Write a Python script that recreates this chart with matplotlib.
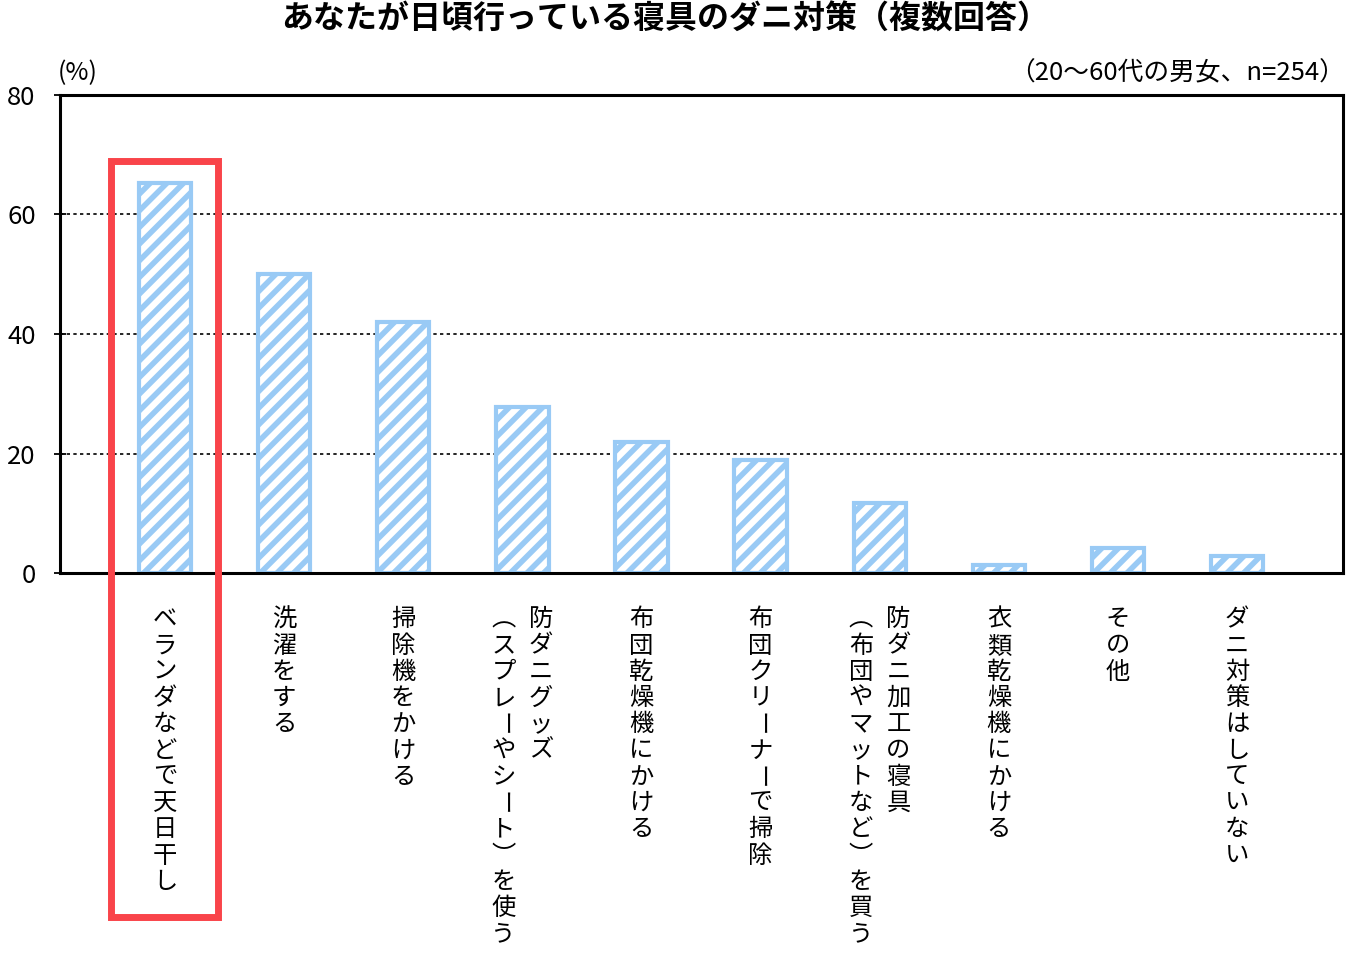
import matplotlib
matplotlib.use('Agg')
from matplotlib import pyplot as plt
from matplotlib.patches import Rectangle

plt.rcParams['font.family'] = ['Noto Sans CJK JP', 'DejaVu Sans']

title = 'あなたが日頃行っている寝具のダニ対策（複数回答）'
note = '（20～60代の男女、n=254）'
unit = '(%)'

# each label: list of vertical columns, first column drawn on the right
labels = [
    ['ベランダなどで天日干し'],
    ['洗濯をする'],
    ['掃除機をかける'],
    ['防ダニグッズ', '（スプレーやシート）を使う'],
    ['布団乾燥機にかける'],
    ['布団クリーナーで掃除'],
    ['防ダニ加工の寝具', '（布団やマットなど）を買う'],
    ['衣類乾燥機にかける'],
    ['その他'],
    ['ダニ対策はしていない'],
]
values = [65.3, 50.0, 42.0, 27.8, 21.9, 18.9, 11.7, 1.3, 4.2, 2.8]
yticks = [0, 20, 40, 60, 80]

blue = '#99caf5'
red = '#f9444a'

# vertical writing forms
vert = {'（': '︵', '）': '︶'}

plt.rcParams['hatch.linewidth'] = 4.0
plt.rcParams['hatch.color'] = blue

W, H = 1346, 958
fig = plt.figure(figsize=(W / 100, H / 100), dpi=100)
ax = fig.add_axes([60 / W, 1 - 573 / H, 1283 / W, 478 / H])

x = list(range(len(values)))
ax.bar(x, values, width=0.44, facecolor='white', edgecolor=blue,
       linewidth=3, hatch='//', zorder=2)

ax.set_xlim(-0.881, 9.889)
ax.set_ylim(0, 80)
ax.set_yticks(yticks)
ax.set_xticks([])
ax.tick_params(axis='y', direction='inout', length=9, width=1.3,
               labelsize=18.5, pad=13)
ax.yaxis.grid(True, linestyle=(0, (2, 2)), color='black', linewidth=1.2)
ax.set_axisbelow(True)
for s in ax.spines.values():
    s.set_linewidth(2.2)
    s.set_zorder(3)

# vertical category labels
step = 18.9   # points per character
col = 13.5    # half distance between columns, points
top = 24
for i, cols in enumerate(labels):
    n = len(cols)
    for c, txt in enumerate(cols):
        dx = ((n - 1) / 2 - c) * 2 * col
        for k, ch in enumerate(txt):
            if ch == 'ー':
                ax.annotate(ch, xy=(i, 0), xycoords=('data', 'axes fraction'),
                            xytext=(dx, -top - k * step - step / 2),
                            textcoords='offset points', rotation=-90,
                            ha='center', va='center', fontsize=17.5,
                            annotation_clip=False)
            else:
                ax.annotate(vert.get(ch, ch), xy=(i, 0), xycoords=('data', 'axes fraction'),
                            xytext=(dx, -top - k * step), textcoords='offset points',
                            ha='center', va='top', fontsize=17.5, annotation_clip=False)

# red highlight box around first category
ax.add_patch(Rectangle((-0.449, -57.5), 0.898, 68.9 + 57.5, fill=False,
                       edgecolor=red, linewidth=5, clip_on=False, zorder=4))

fig.text(665 / W, 1 - 20 / H, title, ha='center', va='center',
         fontsize=23, fontweight='bold')
fig.text(78 / W, 1 - 73 / H, unit, ha='center', va='center', fontsize=18)
fig.text(1345 / W, 1 - 73 / H, note, ha='right', va='center', fontsize=18.5)

fig.savefig('out.png', dpi=100)
